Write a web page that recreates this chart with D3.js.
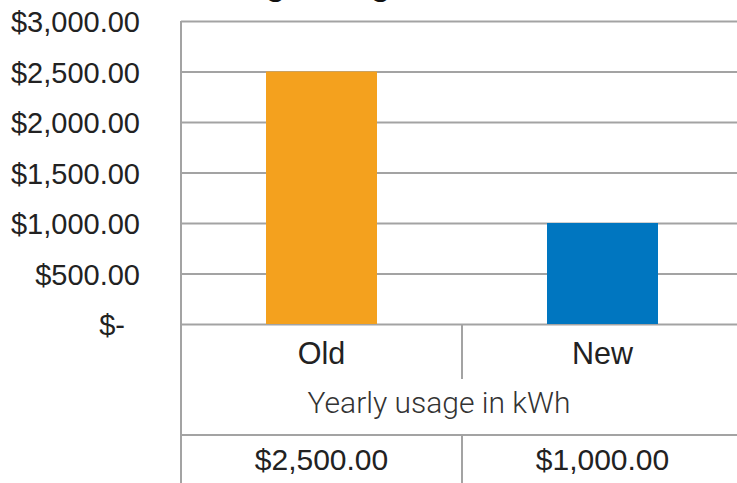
<!DOCTYPE html>
<html>
<head>
<meta charset="utf-8">
<script src="https://cdn.jsdelivr.net/npm/d3@7.9.0/dist/d3.min.js"></script>
<style>
  html, body { margin: 0; padding: 0; background: #fff; }
  svg { display: block; font-family: 'Liberation Sans', Arial, sans-serif; }
</style>
</head>
<body>
<svg id="chart" width="737" height="483"></svg>
<script>
const categories = ['Old', 'New'];
const costs = [2500, 1000];
const yTicks = [0, 500, 1000, 1500, 2000, 2500, 3000];
const barColors = ['#f4a11e', '#0076c0'];
const title = 'Average Usage';
const axisTitle = 'Yearly usage in kWh';

const width = 737;
const height = 483;
const plotLeft = 181;
const plotRight = 743;
const plotTop = 21;
const plotBase = 324;
const rowCat = 379;
const rowVal = 435;
const gridColor = '#a3a3a3';
const textColor = '#222';

const svg = d3.select('#chart');
const formatMoney = (v) => (v === 0 ? '$-' : '$' + d3.format(',.2f')(v));

const x = d3.scaleBand().domain(categories).range([plotLeft, plotRight]);
const y = d3.scaleLinear().domain([0, 3000]).range([plotBase, plotTop]);
const barWidth = x.bandwidth() * 0.395;

// title sits mostly above the crop, only descenders show
svg.append('text')
  .attr('x', plotLeft - 3)
  .attr('y', -5)
  .attr('font-size', 32)
  .attr('font-weight', 'bold')
  .attr('fill', '#111')
  .text(title);

// y axis + gridlines
svg.append('g')
  .attr('transform', `translate(${plotLeft},0)`)
  .call(d3.axisLeft(y).tickValues(yTicks).tickFormat(formatMoney).tickSize(-(plotRight - plotLeft)).tickPadding(41))
  .call((g) => g.select('.domain').remove())
  .call((g) => g.selectAll('.tick line').attr('stroke', gridColor).attr('stroke-width', 2))
  .call((g) => g.selectAll('.tick text')
    .attr('font-size', 29)
    .attr('fill', textColor)
    .attr('dy', '0.37em')
    .attr('dx', (d) => (d === 0 ? -15 : 0)));

// bars
svg.append('g')
  .selectAll('rect')
  .data(categories)
  .join('rect')
  .attr('x', (d) => x(d) + (x.bandwidth() - barWidth) / 2)
  .attr('y', (d, i) => y(costs[i]))
  .attr('width', barWidth)
  .attr('height', (d, i) => y(0) - y(costs[i]))
  .attr('fill', (d, i) => barColors[i]);

// data table lines
const lines = svg.append('g').attr('stroke', gridColor).attr('stroke-width', 2);
lines.append('line').attr('x1', plotLeft).attr('x2', plotLeft).attr('y1', plotTop).attr('y2', height);
lines.append('line').attr('x1', plotLeft).attr('x2', plotRight).attr('y1', rowVal).attr('y2', rowVal);
categories.slice(1).forEach((c) => {
  lines.append('line').attr('x1', x(c)).attr('x2', x(c)).attr('y1', plotBase).attr('y2', rowCat);
  lines.append('line').attr('x1', x(c)).attr('x2', x(c)).attr('y1', rowVal).attr('y2', height);
});

// category labels
svg.append('g')
  .selectAll('text')
  .data(categories)
  .join('text')
  .attr('x', (d) => x(d) + x.bandwidth() / 2)
  .attr('y', 364)
  .attr('text-anchor', 'middle')
  .attr('font-size', 30.5)
  .attr('fill', textColor)
  .text((d) => d);

svg.append('text')
  .attr('x', 439)
  .attr('y', 413)
  .attr('text-anchor', 'middle')
  .attr('font-family', 'Roboto, sans-serif')
  .attr('font-weight', 300)
  .attr('font-size', 30)
  .attr('fill', '#333')
  .text(axisTitle);

// value row
svg.append('g')
  .selectAll('text')
  .data(categories)
  .join('text')
  .attr('x', (d) => x(d) + x.bandwidth() / 2)
  .attr('y', 470)
  .attr('text-anchor', 'middle')
  .attr('font-size', 30)
  .attr('fill', textColor)
  .text((d, i) => formatMoney(costs[i]));
</script>
</body>
</html>
